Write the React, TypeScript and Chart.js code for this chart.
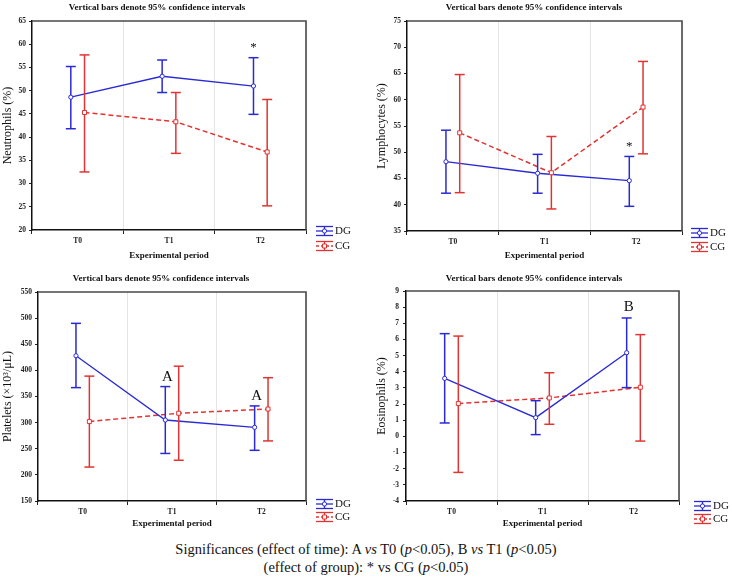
import React, { useEffect, useRef } from "react";
import { Chart, registerables } from "chart.js";

Chart.register(...registerables);

const periods = ["T0", "T1", "T2"];
const groupNames = ["DG", "CG"];

// Neutrophils (%) — means and 95% confidence limits
const neutDG = [48.6, 53.1, 51.0];
const neutDGLow = [41.8, 49.6, 44.9];
const neutDGHigh = [55.2, 56.6, 57.1];
const neutCG = [45.3, 43.3, 36.8];
const neutCGLow = [32.5, 36.5, 25.2];
const neutCGHigh = [57.7, 49.6, 48.1];

// Lymphocytes (%)
const lymDG = [48.2, 46.0, 44.6];
const lymDGLow = [42.2, 42.2, 39.7];
const lymDGHigh = [54.2, 49.6, 49.2];
const lymCG = [53.7, 46.1, 58.6];
const lymCGLow = [42.3, 39.2, 49.7];
const lymCGHigh = [64.8, 53.0, 67.3];

// Platelets (x10^3/uL)
const pltDG = [428, 305, 291];
const pltDGLow = [367, 241, 247];
const pltDGHigh = [490, 369, 332];
const pltCG = [302, 318, 326];
const pltCGLow = [215, 228, 265];
const pltCGHigh = [389, 408, 386];

// Eosinophils (%)
const eosDG = [3.59, 1.16, 5.18];
const eosDGLow = [0.83, 0.11, 3.02];
const eosDGHigh = [6.36, 2.21, 7.33];
const eosCG = [2.03, 2.38, 3.04];
const eosCGLow = [-2.23, 0.75, -0.29];
const eosCGHigh = [6.21, 3.94, 6.3];

// Significance letters placed above the DG means
const neutMarks = [{ period: 2, y: 59.8, text: "*" }];
const lymMarks = [{ period: 2, y: 51.4, text: "*" }];
const pltMarks = [
  { period: 1, y: 388, text: "A" },
  { period: 2, y: 351, text: "A" },
];
const eosMarks = [{ period: 2, y: 8.0, text: "B" }];

const BLUE = "#2a2ad4";
const RED = "#e03434";
const SERIF = '"Liberation Serif", "Times New Roman", serif';
const DODGE = 0.075;
const HEADING = "Vertical bars denote 95% confidence intervals";

type Mark = { period: number; y: number; text: string };
type PanelCfg = {
  canvas: { left: number; top: number; w: number; h: number };
  area: { L: number; T: number; R: number; B: number };
  yPad: number;
  titlePos: { x: number; y: number };
  yTitleX: number;
  xTitleY: number;
  legend: { x: number; y: number; gap: number };
  yLabel: string;
  yMin: number;
  yMax: number;
  yStep: number;
  dg: number[];
  dgLow: number[];
  dgHigh: number[];
  cg: number[];
  cgLow: number[];
  cgHigh: number[];
  marks: Mark[];
};

const panels: PanelCfg[] = [
  {
    canvas: { left: 0, top: 0, w: 366, h: 260 },
    area: { L: 32, T: 21, R: 306, B: 230 },
    yPad: 3,
    titlePos: { x: 157, y: 8 },
    yTitleX: 8,
    xTitleY: 256,
    legend: { x: 316, y: 231, gap: 15 },
    yLabel: "Neutrophils (%)",
    yMin: 20,
    yMax: 65,
    yStep: 5,
    dg: neutDG,
    dgLow: neutDGLow,
    dgHigh: neutDGHigh,
    cg: neutCG,
    cgLow: neutCGLow,
    cgHigh: neutCGHigh,
    marks: neutMarks,
  },
  {
    canvas: { left: 366, top: 0, w: 366, h: 260 },
    area: { L: 41, T: 21, R: 316, B: 231 },
    yPad: 3,
    titlePos: { x: 168, y: 8 },
    yTitleX: 16,
    xTitleY: 256,
    legend: { x: 325, y: 233, gap: 14 },
    yLabel: "Lymphocytes (%)",
    yMin: 35,
    yMax: 75,
    yStep: 5,
    dg: lymDG,
    dgLow: lymDGLow,
    dgHigh: lymDGHigh,
    cg: lymCG,
    cgLow: lymCGLow,
    cgHigh: lymCGHigh,
    marks: lymMarks,
  },
  {
    canvas: { left: 0, top: 260, w: 366, h: 272 },
    area: { L: 38, T: 32, R: 306, B: 241 },
    yPad: 3,
    titlePos: { x: 161, y: 19 },
    yTitleX: 8,
    xTitleY: 264,
    legend: { x: 316, y: 244, gap: 13 },
    yLabel: "Platelets (×10³/μL)",
    yMin: 150,
    yMax: 550,
    yStep: 50,
    dg: pltDG,
    dgLow: pltDGLow,
    dgHigh: pltDGHigh,
    cg: pltCG,
    cgLow: pltCGLow,
    cgHigh: pltCGHigh,
    marks: pltMarks,
  },
  {
    canvas: { left: 366, top: 260, w: 366, h: 272 },
    area: { L: 40, T: 31, R: 313, B: 241 },
    yPad: 4,
    titlePos: { x: 168, y: 19 },
    yTitleX: 16,
    xTitleY: 264,
    legend: { x: 328, y: 246, gap: 13 },
    yLabel: "Eosinophils (%)",
    yMin: -4,
    yMax: 9,
    yStep: 1,
    dg: eosDG,
    dgLow: eosDGLow,
    dgHigh: eosDGHigh,
    cg: eosCG,
    cgLow: eosCGLow,
    cgHigh: eosCGHigh,
    marks: eosMarks,
  },
];

function line(ctx: CanvasRenderingContext2D, x1: number, y1: number, x2: number, y2: number) {
  ctx.beginPath();
  ctx.moveTo(x1, y1);
  ctx.lineTo(x2, y2);
  ctx.stroke();
}

function marker(ctx: CanvasRenderingContext2D, x: number, y: number, color: string, square: boolean) {
  ctx.save();
  ctx.setLineDash([]);
  ctx.fillStyle = "#fff";
  ctx.strokeStyle = color;
  ctx.lineWidth = 1;
  ctx.beginPath();
  if (square) ctx.rect(x - 2, y - 2, 4, 4);
  else ctx.arc(x, y, 2.1, 0, Math.PI * 2);
  ctx.fill();
  ctx.stroke();
  ctx.restore();
}

function Panel({ cfg }: { cfg: PanelCfg }) {
  const ref = useRef<HTMLCanvasElement | null>(null);

  useEffect(() => {
    const canvas = ref.current;
    if (!canvas) return;
    const { area, canvas: cv } = cfg;
    const series = [
      { name: groupNames[0], mean: cfg.dg, low: cfg.dgLow, high: cfg.dgHigh, color: BLUE, shift: -DODGE, dashed: false },
      { name: groupNames[1], mean: cfg.cg, low: cfg.cgLow, high: cfg.cgHigh, color: RED, shift: DODGE, dashed: true },
    ];

    const decor = {
      id: "panelDecor",
      afterDatasetsDraw(chart: any) {
        const ctx: CanvasRenderingContext2D = chart.ctx;
        const xs = chart.scales.xv;
        const ys = chart.scales.y;
        ctx.save();
        series.forEach((s) => {
          ctx.strokeStyle = s.color;
          ctx.lineWidth = 1.5;
          ctx.setLineDash([]);
          s.mean.forEach((_, i) => {
            const x = xs.getPixelForValue(i + s.shift);
            const yh = ys.getPixelForValue(s.high[i]);
            const yl = ys.getPixelForValue(s.low[i]);
            line(ctx, x, yh, x, yl);
            line(ctx, x - 5, yh, x + 5, yh);
            line(ctx, x - 5, yl, x + 5, yl);
          });
        });
        // mean markers sit on top of the bars
        series.forEach((s) => {
          s.mean.forEach((v, i) => {
            marker(ctx, xs.getPixelForValue(i + s.shift), ys.getPixelForValue(v), s.color, s.dashed);
          });
        });
        ctx.restore();
      },
      afterDraw(chart: any) {
        const ctx: CanvasRenderingContext2D = chart.ctx;
        const ca = chart.chartArea;
        const xs = chart.scales.xv;
        const ys = chart.scales.y;
        ctx.save();
        // frame on top and right
        ctx.strokeStyle = "#4a4a4a";
        ctx.lineWidth = 1.6;
        ctx.beginPath();
        ctx.moveTo(ca.left, ca.top);
        ctx.lineTo(ca.right, ca.top);
        ctx.lineTo(ca.right, ca.bottom);
        ctx.stroke();

        ctx.fillStyle = "#111";
        ctx.textAlign = "center";
        ctx.textBaseline = "middle";
        // heading
        ctx.font = `bold 9px ${SERIF}`;
        ctx.fillText(HEADING, cfg.titlePos.x, cfg.titlePos.y);
        // x title
        ctx.font = `bold 9px ${SERIF}`;
        ctx.fillText("Experimental period", (ca.left + ca.right) / 2, cfg.xTitleY);
        // y title
        ctx.save();
        ctx.translate(cfg.yTitleX, (ca.top + ca.bottom) / 2);
        ctx.rotate(-Math.PI / 2);
        ctx.font = `12px ${SERIF}`;
        ctx.fillText(cfg.yLabel, 0, 0);
        ctx.restore();

        // significance marks
        cfg.marks.forEach((m) => {
          ctx.font = m.text === "*" ? `13px ${SERIF}` : `15px ${SERIF}`;
          const x = xs.getPixelForValue(m.period - DODGE);
          const y = ys.getPixelForValue(m.y);
          ctx.fillText(m.text, x + (m.text === "*" ? 0 : 2), y + (m.text === "*" ? 2 : 0));
        });

        // legend
        series.forEach((s, k) => {
          const lx = cfg.legend.x;
          const ly = cfg.legend.y + k * cfg.legend.gap;
          ctx.strokeStyle = s.color;
          ctx.lineWidth = 1.3;
          ctx.setLineDash([]);
          line(ctx, lx, ly - 4.5, lx + 17, ly - 4.5);
          line(ctx, lx, ly + 4.5, lx + 17, ly + 4.5);
          line(ctx, lx + 8.5, ly - 4.5, lx + 8.5, ly + 4.5);
          if (s.dashed) ctx.setLineDash([3, 2]);
          line(ctx, lx, ly, lx + 17, ly);
          ctx.setLineDash([]);
          marker(ctx, lx + 8.5, ly, s.color, s.dashed);
          ctx.fillStyle = "#111";
          ctx.textAlign = "left";
          ctx.font = `11px ${SERIF}`;
          ctx.fillText(s.name, lx + 19, ly + 0.5);
        });
        ctx.restore();
      },
    };

    const tickFont = { family: SERIF, weight: "bold" as const, size: 7.5 };

    const chart = new Chart(canvas, {
      type: "line",
      data: {
        labels: periods,
        datasets: series.map((s) => ({
          label: s.name,
          data: s.mean.map((v, i) => ({ x: i + s.shift, y: v })),
          xAxisID: "xv",
          yAxisID: "y",
          borderColor: s.color,
          borderWidth: s.dashed ? 1.5 : 1.3,
          borderDash: s.dashed ? [5, 3] : [],
          pointRadius: 0,
          tension: 0,
          fill: false,
        })),
      },
      options: {
        responsive: false,
        animation: false,
        events: [],
        layout: { padding: { top: area.T, right: cv.w - area.R, left: 0, bottom: 0 } },
        plugins: { legend: { display: false }, tooltip: { enabled: false }, title: { display: false } },
        scales: {
          x: {
            type: "category",
            labels: periods,
            offset: true,
            position: "bottom",
            grid: { offset: true, color: "#e4e4e4", lineWidth: 1, tickColor: "#222", tickLength: 4, drawTicks: true },
            border: { color: "#111", width: 1.5 },
            ticks: { font: tickFont, color: "#222", padding: 3, maxRotation: 0, autoSkip: false },
            afterFit: (s: any) => {
              s.height = cv.h - area.B;
            },
          },
          xv: {
            type: "linear",
            axis: "x",
            display: false,
            min: -0.5,
            max: 2.5,
          },
          y: {
            type: "linear",
            position: "left",
            min: cfg.yMin,
            max: cfg.yMax,
            grid: { drawOnChartArea: false, tickColor: "#222", tickLength: 3 },
            border: { color: "#111", width: 1.5 },
            ticks: {
              stepSize: cfg.yStep,
              font: tickFont,
              color: "#222",
              padding: cfg.yPad,
              callback: (v: any) => String(v),
            },
            afterFit: (s: any) => {
              s.width = area.L;
            },
          },
        },
      } as any,
      plugins: [decor],
    });

    return () => chart.destroy();
  }, [cfg]);

  return (
    <canvas
      ref={ref}
      width={cfg.canvas.w}
      height={cfg.canvas.h}
      style={{
        position: "absolute",
        left: cfg.canvas.left,
        top: cfg.canvas.top,
        width: cfg.canvas.w,
        height: cfg.canvas.h,
        display: "block",
      }}
    />
  );
}

export default function App() {
  return (
    <div
      style={{
        position: "absolute",
        left: 0,
        top: 0,
        width: 732,
        height: 577,
        background: "#fff",
        overflow: "hidden",
      }}
    >
      {panels.map((p, i) => (
        <Panel key={i} cfg={p} />
      ))}
      <div
        style={{
          position: "absolute",
          left: 0,
          top: 540,
          width: 732,
          textAlign: "center",
          fontFamily: SERIF,
          fontSize: 14.5,
          lineHeight: "18px",
          color: "#111",
        }}
      >
        <div>
          Significances (effect of time): A <i>vs</i> T0 (<i>p</i>&lt;0.05), B <i>vs</i> T1 (<i>p</i>&lt;0.05)
        </div>
        <div>
          (effect of group): * vs CG (<i>p</i>&lt;0.05)
        </div>
      </div>
    </div>
  );
}
